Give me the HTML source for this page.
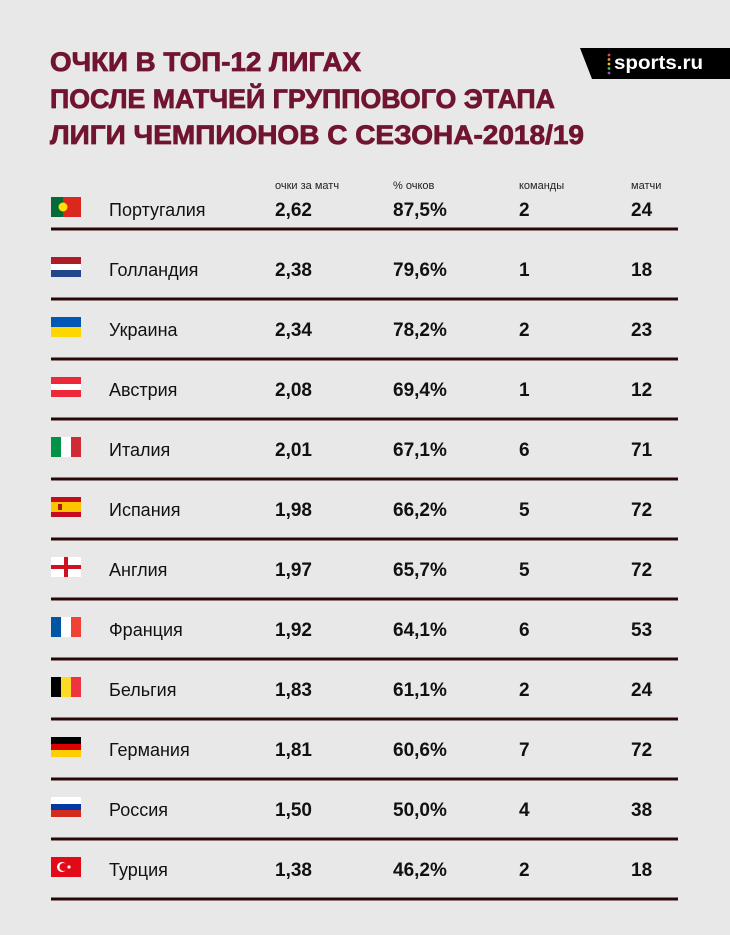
<!DOCTYPE html>
<html><head><meta charset="utf-8"><style>
html,body{margin:0;padding:0;background:#e8e8e8;}
svg{display:block;font-family:"Liberation Sans","DejaVu Sans",sans-serif;}
</style></head><body>
<svg id="chart" width="730" height="935" viewBox="0 0 730 935" xmlns="http://www.w3.org/2000/svg">
<rect width="730" height="935" fill="#e8e8e8"/>
<g fill="#701430" stroke="#701430" stroke-width="0.8" font-weight="bold" font-size="27">
<text x="50" y="71" textLength="311" lengthAdjust="spacingAndGlyphs">ОЧКИ В ТОП-12 ЛИГАХ</text>
<text x="50" y="108" textLength="505" lengthAdjust="spacingAndGlyphs">ПОСЛЕ МАТЧЕЙ ГРУППОВОГО ЭТАПА</text>
<text x="50" y="144" textLength="534" lengthAdjust="spacingAndGlyphs">ЛИГИ ЧЕМПИОНОВ С СЕЗОНА-2018/19</text>
</g>
<g>
<polygon points="580,48 730,48 730,79 592,79" fill="#000"/>
<circle cx="609" cy="55" r="1.4" fill="#e0457b"/><circle cx="609" cy="59.5" r="1.4" fill="#f39c12"/><circle cx="609" cy="64" r="1.4" fill="#f1c40f"/><circle cx="609" cy="68.5" r="1.4" fill="#2ecc71"/><circle cx="609" cy="73" r="1.4" fill="#9b59b6"/>
<text x="614" y="69" fill="#fff" font-weight="bold" font-size="19" textLength="89" lengthAdjust="spacingAndGlyphs">sports.ru</text>
</g>
<g font-size="11" fill="#222">
<text x="275" y="189">очки за матч</text>
<text x="393" y="189">% очков</text>
<text x="519" y="189">команды</text>
<text x="631" y="189">матчи</text>
</g>
<g id="rows"></g>
</svg>
<script>
const countries=["Португалия","Голландия","Украина","Австрия","Италия","Испания","Англия","Франция","Бельгия","Германия","Россия","Турция"];
const ppm=["2,62","2,38","2,34","2,08","2,01","1,98","1,97","1,92","1,83","1,81","1,50","1,38"];
const pct=["87,5%","79,6%","78,2%","69,4%","67,1%","66,2%","65,7%","64,1%","61,1%","60,6%","50,0%","46,2%"];
const teams=["2","1","2","1","6","5","5","6","2","7","4","2"];
const matches=["24","18","23","12","71","72","72","53","24","72","38","18"];
const flags=["pt","nl","ua","at","it","es","en","fr","be","de","ru","tr"];
const NS="http://www.w3.org/2000/svg";
const g=document.getElementById('rows');
function mk(t,a,p){const e=document.createElementNS(NS,t);for(const k in a)e.setAttribute(k,a[k]);(p||g).appendChild(e);return e;}
function flag(code,x,y,p){
 const w=30,h=20;
 const s=(c,xx,yy,ww,hh)=>mk('rect',{x:xx,y:yy,width:ww,height:hh,fill:c},p);
 if(code==="pt"){s('#046a38',x,y,12,h);s('#da291c',x+12,y,18,h);mk('circle',{cx:x+12,cy:y+10,r:4.5,fill:'#ffe000'},p);}
 else if(code==="nl"){s('#ae1c28',x,y,w,7);s('#fff',x,y+7,w,6);s('#21468b',x,y+13,w,7);}
 else if(code==="ua"){s('#0057b7',x,y,w,10);s('#ffd700',x,y+10,w,10);}
 else if(code==="at"){s('#ed2939',x,y,w,7);s('#fff',x,y+7,w,6);s('#ed2939',x,y+13,w,7);}
 else if(code==="it"){s('#009246',x,y,10,h);s('#fff',x+10,y,10,h);s('#ce2b37',x+20,y,10,h);}
 else if(code==="es"){s('#c60b1e',x,y,w,5);s('#ffc400',x,y+5,w,10);s('#c60b1e',x,y+15,w,5);s('#ad1519',x+7,y+7,4,6);}
 else if(code==="en"){s('#fff',x,y,w,h);s('#ce1124',x+13,y,4,h);s('#ce1124',x,y+8,w,4);}
 else if(code==="fr"){s('#0055a4',x,y,10,h);s('#fff',x+10,y,10,h);s('#ef4135',x+20,y,10,h);}
 else if(code==="be"){s('#000',x,y,10,h);s('#fdda24',x+10,y,10,h);s('#ef3340',x+20,y,10,h);}
 else if(code==="de"){s('#000',x,y,w,7);s('#dd0000',x,y+7,w,6);s('#ffce00',x,y+13,w,7);}
 else if(code==="ru"){s('#fff',x,y,w,7);s('#0039a6',x,y+7,w,6);s('#d52b1e',x,y+13,w,7);}
 else if(code==="tr"){s('#e30a17',x,y,w,h);mk('circle',{cx:x+11,cy:y+10,r:5,fill:'#fff'},p);mk('circle',{cx:x+12.5,cy:y+10,r:4,fill:'#e30a17'},p);mk('circle',{cx:x+18,cy:y+10,r:1.6,fill:'#fff'},p);}
}
for(let i=0;i<countries.length;i++){
 const cy = i===0 ? 209 : 269+(i-1)*60;
 const lineY = i===0 ? 229 : 299+(i-1)*60;
 const row=mk('g',{});
 
 
 const fg=mk('g',{},row);
 
 
 flag(flags[i],51,cy-12,fg);
 const n=mk('text',{x:109,y:cy+7,'font-size':18,fill:'#111'},row);n.textContent=countries[i];
 
 
 const cols=[[275,ppm[i]],[393,pct[i]],[519,teams[i]],[631,matches[i]]];
 cols.forEach(([x,v])=>{const t=mk('text',{x:x,y:cy+7,'font-size':19,'font-weight':'bold',fill:'#111'},row);t.textContent=v;
  
  });
 const l=mk('rect',{x:51,y:lineY-1.5,width:627,height:3,fill:'#2b0808'},row);
 
 
}
</script>
</body></html>
